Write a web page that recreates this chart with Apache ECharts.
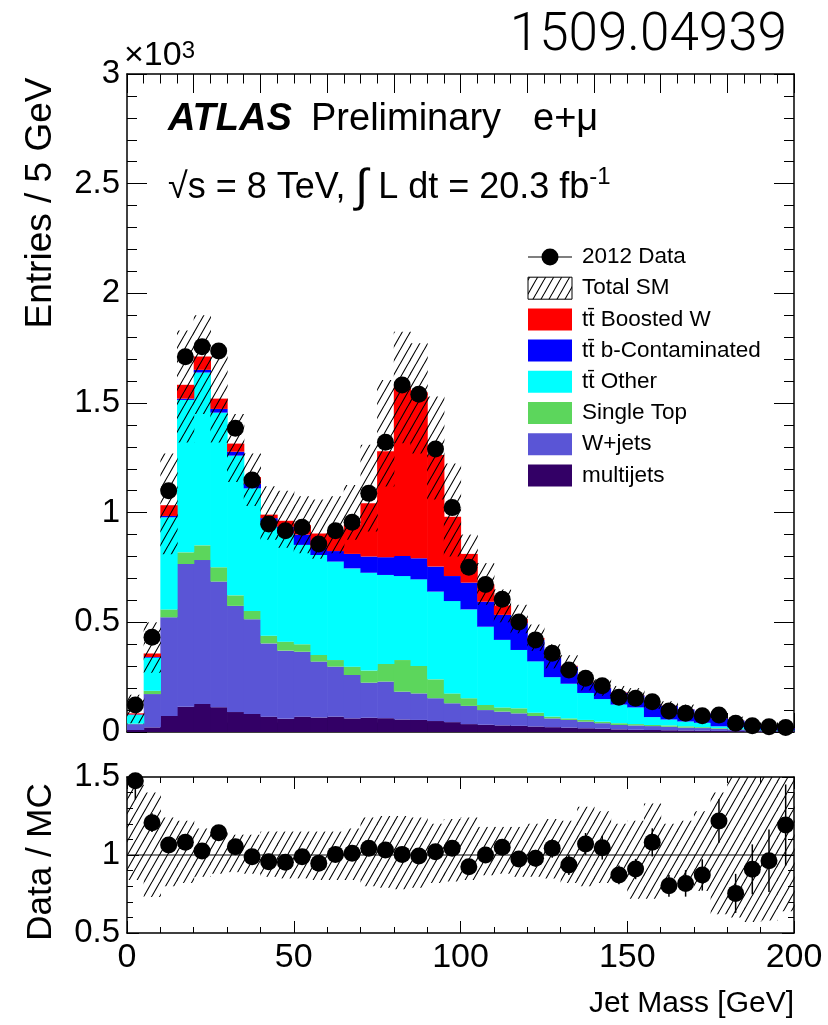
<!DOCTYPE html>
<html>
<head>
<meta charset="utf-8">
<script src="https://cdn.jsdelivr.net/npm/echarts@6/dist/echarts.min.js"></script>
<style>
  html, body { margin: 0; padding: 0; background: #fff; }
  #chart { width: 828px; height: 1025px; }
</style>
</head>
<body>
<div id="chart"></div>
<script>
// jet mass bins, 5 GeV wide
var binLow  = [0,5,10,15,20,25,30,35,40,45,50,55,60,65,70,75,80,85,90,95,100,105,110,115,120,125,130,135,140,145,150,155,160,165,170,175,180,185,190,195];
var binHigh = [5,10,15,20,25,30,35,40,45,50,55,60,65,70,75,80,85,90,95,100,105,110,115,120,125,130,135,140,145,150,155,160,165,170,175,180,185,190,195,200];

// 2012 data, entries / 5 GeV
var dataEntries = [123,432,1100,1711,1757,1737,1385,1149,948,918,933,857,918,956,1088,1321,1582,1540,1290,1023,751,673,605,502,420,359,283,245,211,158,154,138,96,85,74,77,40,29,24,21];

// backgrounds, stacked from the bottom up
var multijets  = [9,21,73,115,128,113,91,82,70,60,70,66,70,62,65,63,57,55,50,45,36,33,30,28,25,22,20,17,15,12,10,9,8,7,6,5,4,3,2,2];
var wjets      = [27,152,450,651,656,573,484,432,334,311,296,255,228,198,160,167,127,121,104,86,83,67,63,57,48,40,35,30,25,20,20,18,16,13,12,10,8,5,4,3];
var singleTop  = [2,15,36,53,67,65,48,38,35,41,34,30,30,38,55,80,144,125,86,45,35,23,19,23,15,8,7,8,7,8,6,5,6,6,4,3,2,1,1,1];
var ttOther    = [40,151,420,695,788,705,637,559,516,494,453,456,449,448,446,406,383,395,400,421,405,357,308,266,234,180,158,123,103,85,76,36,27,22,20,8,8,4,3,2];
var ttBCont    = [2,3,6,6,12,17,18,20,20,30,47,33,48,66,74,81,92,96,114,114,122,114,114,122,98,90,78,48,50,54,55,59,62,55,42,36,30,18,14,9];
var ttBoostedW = [5,16,49,63,61,47,37,31,16,27,43,65,89,134,243,483,773,757,509,270,131,79,43,19,9,4,4,3,2,2,2,1,1,1,1,1,1,1,1,1];

// Total SM uncertainty band (entries)
var smUp = [170,500,1270,1830,1900,1740,1450,1270,1120,1100,1075,1060,1075,1126,1310,1605,1825,1772,1530,1224,900,770,650,580,490,400,350,270,240,210,200,150,140,125,100,80,70,45,35,28];
var smDn = [40,270,810,1320,1450,1320,1140,1030,876,840,815,790,815,876,914,1119,1316,1270,1060,800,720,580,500,450,370,290,250,190,165,150,140,105,100,85,70,45,35,20,15,10];

// Data / MC
var ratio = [1.476,1.207,1.064,1.081,1.026,1.143,1.053,0.989,0.957,0.953,0.989,0.947,1.004,1.011,1.043,1.032,1.004,0.994,1.021,1.043,0.925,1.0,1.049,0.974,0.979,1.043,0.936,1.071,1.047,0.872,0.910,1.081,0.803,0.818,0.872,1.218,0.754,0.908,0.963,1.192];
var ratioErr = [0.12,0.06,0.035,0.028,0.027,0.028,0.03,0.032,0.033,0.034,0.034,0.035,0.035,0.034,0.032,0.03,0.027,0.027,0.03,0.034,0.04,0.042,0.045,0.05,0.054,0.06,0.065,0.07,0.076,0.06,0.065,0.09,0.07,0.085,0.1,0.14,0.125,0.16,0.2,0.26];
var ratioBandUp = [1.45,1.40,1.24,1.22,1.17,1.16,1.13,1.13,1.15,1.15,1.15,1.15,1.15,1.17,1.24,1.25,1.25,1.24,1.20,1.23,1.24,1.18,1.18,1.18,1.20,1.23,1.22,1.31,1.28,1.20,1.22,1.33,1.20,1.22,1.28,1.40,1.50,1.50,1.50,1.50];
var ratioBandDn = [0.84,0.73,0.80,0.82,0.86,0.88,0.89,0.88,0.86,0.85,0.85,0.84,0.84,0.84,0.80,0.79,0.78,0.79,0.82,0.83,0.84,0.87,0.88,0.86,0.86,0.85,0.82,0.80,0.82,0.85,0.72,0.72,0.85,0.82,0.77,0.62,0.60,0.57,0.58,0.64];

var compNames  = ['multijets', 'W+jets', 'Single Top', 'tt\u0304 Other', 'tt\u0304 b-Contaminated', 'tt\u0304 Boosted W'];
var compValues = [multijets, wjets, singleTop, ttOther, ttBCont, ttBoostedW];
var compColors = ['#330066', '#5a55d6', '#5cd65c', '#00ffff', '#0000ff', '#ff0000'];

var FONT = "'Liberation Sans', Arial, Helvetica, sans-serif";

// diagonal hatch like ROOT fill style
function makeHatch() {
  var c = document.createElement('canvas');
  c.width = 8; c.height = 14;
  var g = c.getContext('2d');
  g.strokeStyle = '#000';
  g.lineWidth = 1.1;
  g.beginPath();
  [-8, 0, 8].forEach(function (o) { g.moveTo(o, 14); g.lineTo(o + 8, 0); });
  g.stroke();
  return c;
}
var hatchFill = { image: makeHatch(), repeat: 'repeat' };

function rectItem(fill) {
  return function (params, api) {
    var a = api.coord([api.value(0), api.value(3)]);
    var b = api.coord([api.value(1), api.value(2)]);
    return {
      type: 'rect',
      shape: { x: a[0], y: a[1], width: b[0] - a[0] + 0.6, height: b[1] - a[1] },
      style: { fill: fill }
    };
  };
}

// stacked components
var series = [];
var base = binLow.map(function () { return 0; });
compValues.forEach(function (vals, k) {
  var rows = vals.map(function (v, i) {
    var r = [binLow[i], binHigh[i], base[i], base[i] + v];
    base[i] += v;
    return r;
  });
  series.push({
    name: compNames[k], type: 'custom', xAxisIndex: 0, yAxisIndex: 0,
    renderItem: rectItem(compColors[k]), encode: { x: [0, 1], y: [2, 3] },
    data: rows, z: 2 + k, silent: true
  });
});

// Total SM hatched band
series.push({
  name: 'Total SM', type: 'custom', xAxisIndex: 0, yAxisIndex: 0,
  renderItem: rectItem(hatchFill), encode: { x: [0, 1], y: [2, 3] },
  data: smUp.map(function (v, i) { return [binLow[i], binHigh[i], smDn[i], v]; }),
  z: 10, silent: true
});

// data points
series.push({
  name: '2012 Data', type: 'scatter', xAxisIndex: 0, yAxisIndex: 0,
  symbol: 'circle', symbolSize: 17, itemStyle: { color: '#000', opacity: 1 },
  data: dataEntries.map(function (v, i) { return [(binLow[i] + binHigh[i]) / 2, v]; }),
  z: 20, silent: true
});

// ratio band
series.push({
  type: 'custom', xAxisIndex: 2, yAxisIndex: 2,
  renderItem: rectItem(hatchFill), encode: { x: [0, 1], y: [2, 3] },
  data: ratioBandUp.map(function (v, i) { return [binLow[i], binHigh[i], ratioBandDn[i], v]; }),
  z: 5, silent: true
});

// line at 1
series.push({
  type: 'line', xAxisIndex: 2, yAxisIndex: 2, symbol: 'none',
  lineStyle: { color: '#000', width: 1.2 },
  data: [[0, 1], [200, 1]], z: 6, silent: true
});

// ratio error bars
series.push({
  type: 'custom', xAxisIndex: 2, yAxisIndex: 2,
  renderItem: function (params, api) {
    var x = api.value(0), r = api.value(1), e = api.value(2);
    var p0 = api.coord([x, Math.max(0.5, r - e)]);
    var p1 = api.coord([x, Math.min(1.5, r + e)]);
    return { type: 'line', shape: { x1: p0[0], y1: p0[1], x2: p1[0], y2: p1[1] }, style: { stroke: '#000', lineWidth: 1.5 } };
  },
  encode: { x: 0, y: 1 },
  data: ratio.map(function (r, i) { return [(binLow[i] + binHigh[i]) / 2, r, ratioErr[i]]; }),
  z: 7, silent: true
});

// ratio points
series.push({
  type: 'scatter', xAxisIndex: 2, yAxisIndex: 2,
  symbol: 'circle', symbolSize: 17, itemStyle: { color: '#000', opacity: 1 },
  data: ratio.map(function (r, i) { return [(binLow[i] + binHigh[i]) / 2, r]; }),
  z: 20, silent: true
});

var axLine = { show: true, onZero: false, lineStyle: { color: '#000', width: 1.5 } };
function xAx(grid, pos, labels, interval, minorSplit, tickLen) {
  return {
    type: 'value', gridIndex: grid, position: pos, min: 0, max: 200, interval: interval,
    axisLine: axLine,
    axisTick: { show: true, inside: true, length: tickLen, lineStyle: { color: '#000', width: 1 } },
    minorTick: { show: true, splitNumber: minorSplit, length: tickLen / 2, lineStyle: { color: '#000', width: 1 } },
    axisLabel: { show: labels, color: '#000', fontSize: 34, fontFamily: FONT, margin: 8 },
    splitLine: { show: false }
  };
}
function yAx(grid, pos, labels, min, max, interval, tickLen, fmt) {
  return {
    type: 'value', gridIndex: grid, position: pos, min: min, max: max, interval: interval,
    axisLine: axLine,
    axisTick: { show: true, inside: true, length: tickLen, lineStyle: { color: '#000', width: 1 } },
    minorTick: { show: true, splitNumber: 5, length: tickLen / 2, lineStyle: { color: '#000', width: 1 } },
    axisLabel: { show: labels, color: '#000', fontSize: 33, fontFamily: FONT, margin: 7, formatter: fmt },
    splitLine: { show: false }
  };
}

var xMain = xAx(0, 'bottom', false, 20, 4, 19);
var xMainTop = xAx(0, 'top', false, 20, 4, 19);
var xRatio = xAx(1, 'bottom', true, 50, 5, 12);
xRatio.name = 'Jet Mass [GeV]';
xRatio.nameLocation = 'end';
xRatio.nameGap = 0;
xRatio.nameTextStyle = { color: '#000', fontSize: 30, fontFamily: FONT, align: 'right', verticalAlign: 'top', padding: [56, 0, 0, 0] };
var xRatioTop = xAx(1, 'top', false, 50, 5, 12);

// legend rows drawn as graphic
var legendRows = [
  { name: '2012 Data', kind: 'data' },
  { name: 'Total SM', kind: 'hatch' },
  { name: compNames[5], color: compColors[5] },
  { name: compNames[4], color: compColors[4] },
  { name: compNames[3], color: compColors[3] },
  { name: compNames[2], color: compColors[2] },
  { name: compNames[1], color: compColors[1] },
  { name: compNames[0], color: compColors[0] }
];
var legendEls = [];
legendRows.forEach(function (row, i) {
  var cy = 257 + i * 31.2;
  if (row.kind === 'data') {
    legendEls.push({ type: 'line', shape: { x1: 528, y1: cy, x2: 572, y2: cy }, style: { stroke: '#000', lineWidth: 1.2 } });
    legendEls.push({ type: 'circle', shape: { cx: 550, cy: cy, r: 8.5 }, style: { fill: '#000' } });
  } else if (row.kind === 'hatch') {
    legendEls.push({ type: 'rect', shape: { x: 528, y: cy - 11, width: 44, height: 22 }, style: { fill: hatchFill, stroke: '#000', lineWidth: 1 } });
  } else {
    legendEls.push({ type: 'rect', shape: { x: 528, y: cy - 11, width: 44, height: 22 }, style: { fill: row.color } });
  }
  legendEls.push({ type: 'text', x: 582, y: cy, style: { text: row.name, fontSize: 22.5, fontFamily: FONT, fill: '#000', align: 'left', verticalAlign: 'middle' } });
});

var chart = echarts.init(document.getElementById('chart'));
chart.setOption({
  backgroundColor: '#fff',
  animation: false,
  grid: [
    { left: 127, top: 74, width: 667, height: 658 },
    { left: 127, top: 777, width: 667, height: 156 }
  ],
  xAxis: [xMain, xMainTop, xRatio, xRatioTop],
  yAxis: [
    yAx(0, 'left', true, 0, 3000, 500, 20, function (v) { return String(v / 1000); }),
    yAx(0, 'right', false, 0, 3000, 500, 20),
    yAx(1, 'left', true, 0.5, 1.5, 0.5, 12),
    yAx(1, 'right', false, 0.5, 1.5, 0.5, 12)
  ],
  series: series,
  graphic: [
    { type: 'text', x: 787, y: 37, style: { text: '1509.04939', fontSize: 53, fontFamily: "Roboto, 'Liberation Sans', sans-serif", fontWeight: 300, fill: '#000', align: 'right', verticalAlign: 'middle' } },
    { type: 'text', x: 124, y: 56, style: {
        text: '{m|\u00d710}{s|3}', fontFamily: FONT, fill: '#000', align: 'left', verticalAlign: 'middle',
        rich: { m: { fontSize: 34, fontFamily: FONT }, s: { fontSize: 24, fontFamily: FONT, verticalAlign: 'top' } } } },
    { type: 'text', x: 41, y: 203, rotation: Math.PI / 2, style: { text: 'Entries / 5 GeV', fontSize: 37, fontFamily: FONT, fill: '#000', align: 'center', verticalAlign: 'middle' } },
    { type: 'text', x: 41, y: 862, rotation: Math.PI / 2, style: { text: 'Data / MC', fontSize: 35, fontFamily: FONT, fill: '#000', align: 'center', verticalAlign: 'middle' } },
    { type: 'text', x: 168, y: 120, style: { text: 'ATLAS', fontSize: 38, fontFamily: FONT, fontWeight: 'bold', fontStyle: 'italic', fill: '#000', align: 'left', verticalAlign: 'middle' } },
    { type: 'text', x: 311, y: 120, style: { text: 'Preliminary', fontSize: 38, fontFamily: FONT, fill: '#000', align: 'left', verticalAlign: 'middle' } },
    { type: 'text', x: 533, y: 120, style: { text: 'e+\u03bc', fontSize: 38, fontFamily: FONT, fill: '#000', align: 'left', verticalAlign: 'middle' } },
    { type: 'text', x: 168, y: 188, style: {
        text: '{t|\u221as = 8 TeV, }{i|\u222b}{t| L dt = 20.3 fb}{s|-1}', fill: '#000', align: 'left', verticalAlign: 'middle',
        rich: { t: { fontSize: 36, fontFamily: FONT }, i: { fontSize: 46, fontFamily: FONT }, s: { fontSize: 24, fontFamily: FONT, verticalAlign: 'top' } } } }
  ].concat(legendEls)
});
</script>
</body>
</html>
